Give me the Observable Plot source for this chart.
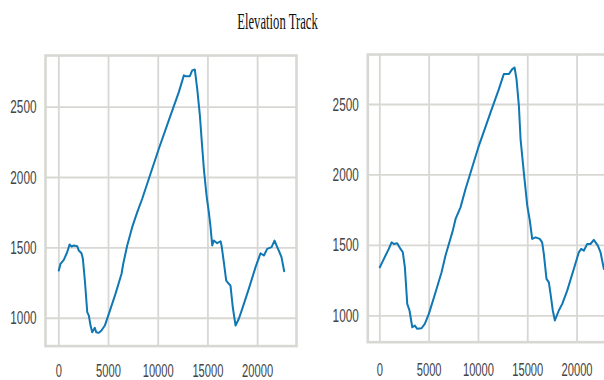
<!DOCTYPE html>
<html>
<head>
<meta charset="utf-8">
<script src="https://cdn.jsdelivr.net/npm/d3@7"></script>
<script src="https://cdn.jsdelivr.net/npm/@observablehq/plot@0.6"></script>
<style>
  html, body { margin: 0; padding: 0; background: #fff; width: 604px; height: 380px; overflow: hidden; }
  #wrap { position: relative; width: 604px; height: 380px; overflow: hidden; }
  #title { position: absolute; left: 0; top: 10px; width: 555px; text-align: center;
           font-family: "Liberation Serif", "Times New Roman", serif; font-size: 23px; line-height: 23px;
           color: #111; transform: scaleX(0.55); transform-origin: 277.5px 0; white-space: nowrap; }
  #left { position: absolute; left: 0; top: 0; width: 300px; height: 380px; }
  #right { position: absolute; left: 310px; top: 0; width: 310px; height: 380px; }
  #left svg, #right svg { max-width: none !important; display: block; }
</style>
</head>
<body>
<div id="wrap">
  <div id="title">Elevation Track</div>
  <div id="left"></div>
  <div id="right"></div>
</div>
<script>
// Raw track (left panel)
const leftX = [0,170,500,840,1080,1280,1510,1850,2010,2280,2420,2620,2860,3020,3190,3360,3620,3760,4020,4290,4630,5030,5700,6310,6480,6880,7380,7890,8390,8890,10060,11240,12070,12580,12750,13180,13420,13680,13920,14190,14360,14590,14860,15090,15260,15430,15590,15930,16270,16370,16600,16840,17100,17270,17500,17780,18110,18450,19110,19790,20290,20630,20960,21400,21700,21900,22130,22400,22670];
const leftY = [1339,1387,1415,1469,1524,1510,1517,1512,1481,1462,1422,1268,1043,1019,948,900,932,900,896,913,948,1031,1173,1316,1387,1517,1647,1754,1849,1956,2204,2441,2607,2726,2720,2720,2761,2768,2631,2441,2276,2062,1872,1754,1650,1517,1552,1533,1547,1517,1398,1268,1245,1232,1078,948,996,1067,1209,1363,1462,1446,1493,1505,1552,1517,1481,1434,1334];

// Smoothed track (right panel)
const rightX = [0,240,580,910,1190,1420,1760,2100,2330,2540,2780,3010,3290,3550,3790,4230,4560,4970,5650,6260,6660,7000,7400,7680,8180,8690,10040,11230,12070,12570,13080,13430,13660,13860,14100,14270,14600,14950,15210,15450,15790,16220,16460,16630,16900,17140,17310,17540,17750,18150,18500,19000,19670,20180,20420,20690,21030,21360,21700,22110,22380,22720];
const rightY = [1345,1380,1428,1475,1522,1510,1515,1475,1451,1345,1085,1038,919,931,908,912,943,1014,1167,1309,1428,1510,1605,1688,1770,1900,2207,2444,2609,2716,2716,2751,2763,2680,2491,2255,2018,1782,1676,1546,1557,1546,1522,1440,1262,1238,1156,1038,967,1038,1085,1179,1333,1451,1475,1463,1510,1510,1539,1498,1451,1333];

const xTicks = [0, 5000, 10000, 15000, 20000];
const yTicks = [1000, 1500, 2000, 2500];

const LINE = "#0f77b4";
const GRID = "#d8d7d3";

function panel(xs, ys, o) {
  const data = xs.map((x, i) => ({x, y: ys[i]}));
  return Plot.plot({
    width: o.width, height: 380,
    marginLeft: o.ml, marginRight: o.mr, marginTop: o.mt, marginBottom: o.mb,
    style: {fontFamily: "'Liberation Sans', Arial, sans-serif", color: "#444", background: "transparent"},
    x: {domain: o.xd},
    y: {domain: o.yd},
    marks: [
      Plot.gridX(xTicks, {stroke: GRID, strokeOpacity: 1, strokeWidth: 1.8}),
      Plot.gridY(yTicks, {stroke: GRID, strokeOpacity: 1, strokeWidth: 1.8}),
      Plot.frame({stroke: GRID, strokeWidth: 2.6}),
      Plot.line(data, {x: "x", y: "y", stroke: LINE, strokeWidth: 2}),
      Plot.axisX(xTicks, {tickSize: 0, tickPadding: o.xpad, tickFormat: d3.format("d"), fontSize: 18, label: null}),
      Plot.axisY(yTicks, {tickSize: 0, tickPadding: 9, tickFormat: d3.format("d"), fontSize: 19, label: null})
    ]
  });
}

function condense(svg, s) {
  svg.style.maxWidth = "none";
  svg.querySelectorAll("text").forEach(t => {
    const tr = t.getAttribute("transform") || "";
    t.setAttribute("transform", (tr + ` scale(${s},1)`).trim());
  });
}

const left = panel(leftX, leftY, {width: 300, ml: 45, mr: 4, mt: 55, mb: 34.4, xd: [-1340, 23910], yd: [802, 2867], xpad: 18});
condense(left, 0.62);
document.getElementById("left").appendChild(left);

const right = panel(rightX, rightY, {width: 310, ml: 57.3, mr: 3.7, mt: 54, mb: 38.3, xd: [-1220, 24030], yd: [813, 2855], xpad: 21});
condense(right, 0.62);
document.getElementById("right").appendChild(right);
</script>
</body>
</html>
